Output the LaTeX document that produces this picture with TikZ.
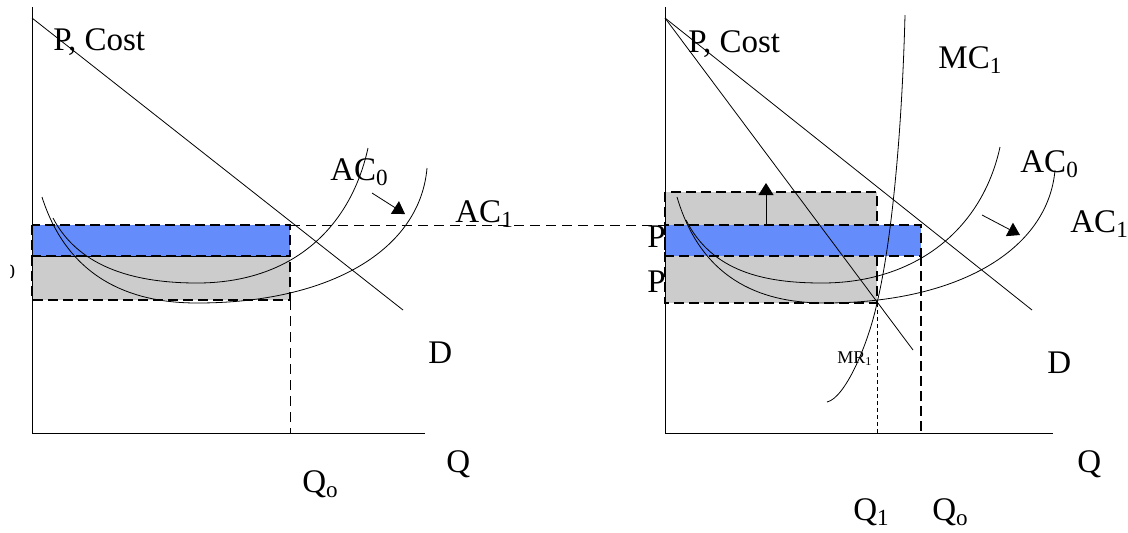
\documentclass[tikz,border=0pt]{standalone}
\usepackage{fontspec}
\setmainfont{Liberation Serif}
\usetikzlibrary{arrows.meta}
\definecolor{profitblue}{RGB}{100,140,250}
\definecolor{costgray}{RGB}{204,204,204}

\begin{document}
\begin{tikzpicture}[
  x=0.5pt, y=-0.5pt,
  font=\fontsize{16.5}{18}\selectfont,
  axis/.style={line width=0.5pt},
  curve/.style={line width=0.4pt},
  profitbox/.style={fill=profitblue, draw=black, line width=1pt, dash pattern=on 5pt off 2.5pt},
  costbox/.style={fill=costgray, draw=black, line width=1pt, dash pattern=on 5pt off 2.5pt},
  guide/.style={line width=0.4pt, dash pattern=on 5pt off 3pt},
  fineguide/.style={line width=0.4pt, dash pattern=on 2pt off 1.5pt},
  thickguide/.style={line width=1pt, dash pattern=on 5pt off 2.5pt},
  shiftarr/.style={-{Triangle[length=6pt,width=7.5pt]}, line width=0.4pt},
  lbl/.style={inner sep=0pt, anchor=base west},
  small/.style={lbl, font=\fontsize{9}{10}\selectfont}
]
\useasboundingbox (0,0) rectangle (1128,532);

% left panel
\draw[costbox] (32,256) rectangle (290,300);
\draw[profitbox] (32,225) rectangle (290,256);
\draw[axis] (32,7) -- (32,433) -- (425,433);
\draw[curve] (32,18) -- (403,310);
\draw[curve] (53,218) .. controls (80,270) and (140,283) .. (197,283)
  .. controls (290,283) and (350,230) .. (368,148);
\draw[curve] (42,197) .. controls (70,285) and (140,303) .. (197,303)
  .. controls (330,303) and (420,250) .. (427,168);
\draw[guide] (290,225) -- (665,225);
\draw[guide] (290,300) -- (290,433);
\coordinate (lshiftA) at (372,193);
\coordinate (lshiftB) at (405,214);
\draw[shiftarr] (lshiftA) -- (lshiftB);

\node[lbl] (lcost) at (53,50) {P, Cost};
\node[lbl] (lac0) at (330,180) {AC\textsubscript{0}};
\node[lbl] (lac1) at (455,222) {AC\textsubscript{1}};
\node[lbl] (ld) at (428,363) {D};
\node[lbl] (lq) at (446,472) {Q};
\node[lbl] (lq0) at (302,492) {Q\textsubscript{o}};
\begin{scope}
  \clip (10,250) rectangle (30,290);
  \node[inner sep=0pt, font=\fontsize{10}{12}\selectfont] (lpzero) at (10,272) {0};
\end{scope}

% right panel
\draw[costbox] (665,192) rectangle (877,303);
\draw[profitbox] (665,225) rectangle (921,256);
\draw[thickguide] (921,256) -- (921,433);
\draw[fineguide] (877,303) -- (877,433);
\draw[axis] (665,7) -- (665,433) -- (1053,433);
\draw[curve] (665,18) -- (1032,310);
\draw[curve] (665,18) -- (913,350);
\draw[curve] (905,15) .. controls (902,130) and (892,240) .. (877,303)
  .. controls (868,345) and (845,398) .. (827,402);
\draw[curve] (686,220) .. controls (712,272) and (765,283) .. (822,283)
  .. controls (915,283) and (982,230) .. (1000,147);
\draw[curve] (677,197) .. controls (703,285) and (768,303) .. (825,303)
  .. controls (958,303) and (1048,250) .. (1055,170);
\coordinate (rupA) at (766,225);
\coordinate (rupB) at (766,183);
\draw[shiftarr] (rupA) -- (rupB);
\coordinate (rshiftA) at (982,215);
\coordinate (rshiftB) at (1020,235);
\draw[shiftarr] (rshiftA) -- (rshiftB);

\node[lbl] (rcost) at (688,52) {P, Cost};
\node[lbl] (rmc1) at (938,68) {MC\textsubscript{1}};
\node[lbl] (rac0) at (1020,172) {AC\textsubscript{0}};
\node[lbl] (rac1) at (1070,232) {AC\textsubscript{1}};
\node[lbl] (rp1) at (647,247) {P};
\node[lbl] (rp0) at (647,292) {P};
\node[small] (rmr1) at (837,363) {MR\textsubscript{1}};
\node[lbl] (rd) at (1047,373) {D};
\node[lbl] (rq) at (1077,472) {Q};
\node[lbl] (rq1) at (853,520) {Q\textsubscript{1}};
\node[lbl] (rq0) at (932,520) {Q\textsubscript{o}};
\end{tikzpicture}
\end{document}
